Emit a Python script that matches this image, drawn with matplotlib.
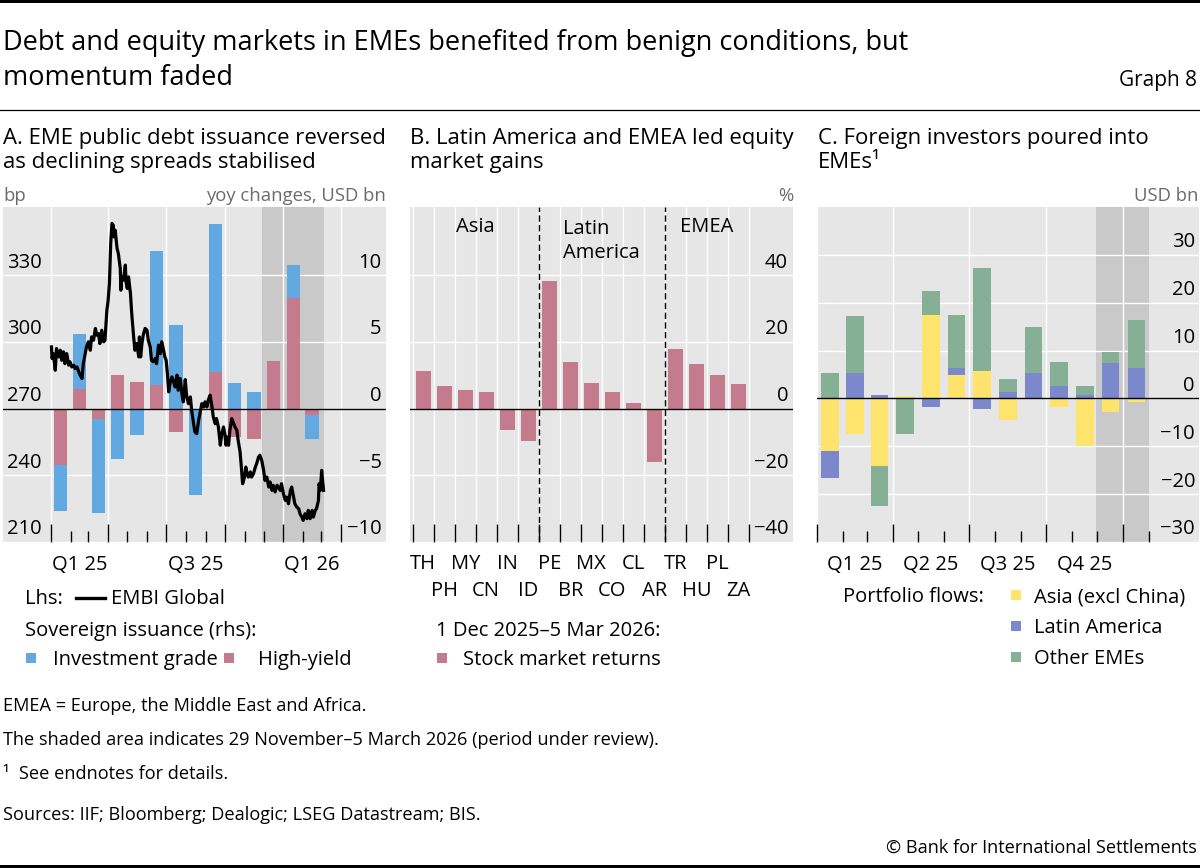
import numpy as np
import pandas as pd
import matplotlib
matplotlib.use("Agg")
import matplotlib.pyplot as plt
import matplotlib.dates as mdates
from matplotlib.patches import Rectangle
from matplotlib.lines import Line2D

plt.rcParams['font.family'] = ['Open Sans', 'DejaVu Sans']

# ---------------- DATA ----------------
# Panel A: sovereign issuance, yoy changes, USD bn (monthly, Jan 2025 - Feb 2026)
a_months = ["2025-01", "2025-02", "2025-03", "2025-04", "2025-05", "2025-06", "2025-07",
            "2025-08", "2025-09", "2025-10", "2025-11", "2025-12", "2026-01", "2026-02"]
a_high_yield = [-4.25, 1.5, -0.75, 2.55, 2.0, 1.8, -1.75, 0.0, 2.75, -2.1, -2.25, 3.55, 8.25, -0.45]
a_inv_grade = [-3.45, 4.05, -7.05, -3.75, -2.0, 10.0, 6.25, -6.5, 11.05, 1.9, 1.25, 0.0, 2.5, -1.8]
# EMBI Global spread, bp (day offset from 1 Jan 2025, value)
embi_day = [1, 2, 4, 7, 9, 12, 15, 17, 20, 22, 25, 28, 30, 33, 36, 38, 41, 43, 46, 49,
            51, 54, 56, 59, 62, 64, 67, 70, 72, 75, 77, 80, 83, 85, 88, 90, 92, 94, 96, 98,
            99, 101, 104, 106, 109, 110, 111, 114, 117, 118, 120, 122, 125, 127, 130, 132, 135, 138, 139, 141,
            143, 145, 148, 151, 153, 156, 158, 161, 164, 166, 169, 172, 174, 177, 179, 181, 183, 185, 187, 190,
            192, 195, 198, 200, 203, 206, 208, 211, 213, 216, 219, 221, 224, 226, 229, 232, 234, 237, 240, 242,
            245, 247, 250, 253, 255, 258, 260, 263, 266, 268, 271, 273, 275, 276, 279, 281, 284, 287, 289, 292,
            294, 297, 299, 301, 304, 306, 308, 310, 313, 315, 318, 321, 323, 326, 328, 331, 334, 336, 339, 342,
            344, 347, 349, 352, 355, 357, 360, 362, 365, 368, 370, 373, 376, 378, 381, 383, 386, 389, 391, 394,
            396, 399, 402, 404, 407, 410, 412, 415, 417, 420, 421, 423, 425, 428]
embi_value = [297.7, 292.5, 294.7, 287.2, 297.0, 293.2, 296.2, 291.7, 295.5, 290.2, 294.7, 289.5, 291.0, 288.7, 289.5, 288.0, 288.7, 287.2, 285.0, 283.5,
              290.2, 294.7, 297.7, 300.0, 296.2, 302.2, 300.7, 306.0, 303.0, 303.7, 299.2, 305.2, 300.0, 300.7, 314.2, 318.7, 326.2, 344.2, 353.2, 352.5,
              347.2, 350.2, 342.0, 339.7, 333.0, 323.2, 329.2, 327.7, 334.5, 327.0, 324.0, 329.2, 321.7, 312.7, 302.2, 296.2, 299.2, 293.2, 302.2, 293.2,
              299.2, 303.0, 306.0, 305.2, 300.7, 297.7, 291.7, 291.0, 292.5, 290.2, 298.5, 294.7, 300.0, 296.2, 293.2, 291.7, 285.7, 277.5, 281.2, 284.2,
              282.7, 279.7, 285.0, 278.2, 283.5, 276.0, 273.0, 283.0, 276.0, 272.2, 275.2, 269.2, 263.2, 259.5, 258.7, 264.7, 267.7, 272.2, 270.7, 273.0,
              270.7, 273.7, 276.0, 270.7, 266.2, 263.2, 265.5, 261.7, 253.5, 258.0, 261.7, 258.7, 253.5, 257.2, 253.5, 260.2, 265.5, 263.2, 261.7, 260.2,
              255.7, 250.5, 243.7, 236.2, 239.2, 243.7, 240.7, 239.2, 241.5, 239.2, 240.7, 243.7, 245.2, 248.2, 249.0, 246.7, 242.2, 237.7, 239.2, 234.7,
              237.0, 233.2, 235.5, 232.5, 235.5, 234.7, 233.2, 236.2, 231.7, 228.7, 230.2, 227.2, 233.2, 234.7, 230.2, 227.2, 225.7, 225.0, 222.7, 221.2,
              219.7, 222.7, 220.5, 224.2, 220.5, 224.2, 221.2, 224.2, 225.0, 228.7, 236.2, 233.2, 242.2, 233.2]

# Panel B: stock market returns, 1 Dec 2025 - 5 Mar 2026, %
b_groups = ["Asia", "Latin\nAmerica", "EMEA"]
b_group_sizes = [6, 6, 4]
b_countries = ["TH", "PH", "MY", "CN", "IN", "ID", "PE", "BR", "MX", "CO", "CL", "AR", "TR", "HU", "PL", "ZA"]
b_returns = [11.2, 6.7, 5.6, 5.1, -6.5, -9.8, 38.3, 13.9, 7.7, 4.9, 1.6, -16.1, 17.8, 13.5, 10.0, 7.5]

# Panel C: portfolio flows, USD bn (monthly, Jan 2025 - Jan 2026)
c_months = ["2025-01", "2025-02", "2025-03", "2025-04", "2025-05", "2025-06", "2025-07",
            "2025-08", "2025-09", "2025-10", "2025-11", "2025-12", "2026-01"]
c_asia = [-11.0, -7.5, -14.1, 0.6, 17.4, 4.9, 5.7, -4.5, 0.0, -1.8, -10.0, -2.8, -0.8]
c_latam = [-5.6, 5.4, 0.8, 0.0, -1.7, 1.5, -2.2, 1.4, 5.4, 2.7, 0.8, 7.3, 6.4]
c_other = [5.4, 11.9, -8.4, -7.5, 5.1, 11.0, 21.5, 2.6, 9.6, 5.0, 1.7, 2.4, 9.9]

review_start, review_end = "2025-11-29", "2026-03-05"

# ---------------- STYLE ----------------
BG = '#e6e6e6'
SHADE = '#c9c9c9'
C_IG = '#62a9e2'
C_HY = '#c47b8d'
C_ASIA = '#fee46c'
C_LATAM = '#7b89cc'
C_OTHER = '#86b096'
GREY_TXT = '#6b6b6b'
TICK_FS = 14.5
TITLE_FS = 19.5
PANEL_FS = 15.9
UNIT_FS = 13.3
LEG_FS = 14.5
FN = 13.1

W, H = 1200, 868
fig = plt.figure(figsize=(W / 100, H / 100), dpi=100)


def fx(x):
    return x / W


def fy(y):
    return 1 - y / H


def ftext(x, y, s, **kw):
    kw.setdefault('va', 'baseline')
    return fig.text(fx(x), fy(y), s, **kw)


def make_ax(x0, x1, y0=207, y1=542):
    ax = fig.add_axes([fx(x0), fy(y1), (x1 - x0) / W, (y1 - y0) / H])
    ax.set_facecolor(BG)
    for s in ax.spines.values():
        s.set_visible(False)
    ax.set_axisbelow(True)
    return ax


def ylabels(ax, ticks, side, inset=4.5, lift=7.5):
    for t in ticks:
        lab = f"{t:g}".replace('-', '\u2212')
        if side == 'left':
            ax.annotate(lab, xy=(0, t), xycoords=('axes fraction', 'data'), xytext=(inset, lift),
                        textcoords='offset pixels', ha='left', va='baseline', fontsize=TICK_FS)
        else:
            ax.annotate(lab, xy=(1, t), xycoords=('axes fraction', 'data'), xytext=(-inset, lift),
                        textcoords='offset pixels', ha='right', va='baseline', fontsize=TICK_FS)


def xlabel(ax, x, s, drop=28):
    ax.annotate(s, xy=(x, 0), xycoords=('data', 'axes fraction'), xytext=(0, -drop),
                textcoords='offset pixels', ha='center', va='baseline', fontsize=TICK_FS)


def stack(ax, x, series, colors, width):
    pos = np.zeros(len(x))
    neg = np.zeros(len(x))
    for vals, c in zip(series, colors):
        v = np.asarray(vals, float)
        bottom = np.where(v >= 0, pos, neg)
        ax.bar(x, v, width=width, bottom=bottom, color=c, lw=0, zorder=2)
        pos = pos + np.where(v > 0, v, 0)
        neg = neg + np.where(v < 0, v, 0)


def mid_month(months):
    s = pd.to_datetime(months)
    e = s + pd.offsets.MonthBegin(1)
    return mdates.date2num(s) + (mdates.date2num(e) - mdates.date2num(s)) / 2


def style_xticks(ax, major, minor):
    ax.set_xticks(major)
    ax.set_xticks(minor, minor=True)
    ax.tick_params(axis='x', which='major', direction='in', length=13, width=1.0, color='black',
                   labelbottom=False)
    ax.tick_params(axis='x', which='minor', direction='in', length=8, width=1.0, color='black',
                   labelbottom=False)
    ax.grid(axis='x', which='major', color='white', lw=1.0)


def dn(s):
    return mdates.date2num(pd.Timestamp(s))


# ---------------- FIGURE TEXT ----------------
fig.add_artist(Rectangle((0, fy(3)), 1, 3 / H, transform=fig.transFigure, color='black', lw=0))
fig.add_artist(Rectangle((0, 0), 1, 3 / H, transform=fig.transFigure, color='black', lw=0))
fig.add_artist(Line2D([0, 1], [fy(110), fy(110)], transform=fig.transFigure, color='black', lw=0.9))

ftext(3, 50, "Debt and equity markets in EMEs benefited from benign conditions, but", fontsize=TITLE_FS)
ftext(3, 85, "momentum faded", fontsize=TITLE_FS)
ftext(1197, 86, "Graph 8", fontsize=15, ha='right')

ftext(3, 144, "A. EME public debt issuance reversed", fontsize=PANEL_FS)
ftext(3, 168, "as declining spreads stabilised", fontsize=PANEL_FS)
ftext(410, 144, "B. Latin America and EMEA led equity", fontsize=PANEL_FS)
ftext(410, 168, "market gains", fontsize=PANEL_FS)
ftext(818, 144, "C. Foreign investors poured into", fontsize=PANEL_FS)
ftext(818, 168, "EMEs\u00b9", fontsize=PANEL_FS)

ftext(3, 201, "bp", fontsize=UNIT_FS, color=GREY_TXT)
ftext(386, 201, "yoy changes, USD bn", fontsize=UNIT_FS, color=GREY_TXT, ha='right')
ftext(793, 201, "%", fontsize=UNIT_FS, color=GREY_TXT, ha='right')
ftext(1198, 201, "USD bn", fontsize=UNIT_FS, color=GREY_TXT, ha='right')

# ---------------- PANEL A ----------------
axA = make_ax(3, 386)
a_x = mid_month(a_months)
stack(axA, a_x, [a_high_yield, a_inv_grade], [C_HY, C_IG], width=21)
a_lo, a_hi = -10, 15.1
axA.set_ylim(a_lo, a_hi)
axA.set_xlim(dn("2024-10-18"), dn("2026-06-11"))
a_yt = [-10, -5, 0, 5, 10]
axA.set_yticks(a_yt)
axA.tick_params(axis='y', length=0, labelleft=False, labelright=False)
axA.grid(axis='y', color='white', lw=1.0)
axA.axhline(0, color='black', lw=1.0, zorder=3)
axA.axvspan(dn(review_start), dn(review_end), color=SHADE, lw=0, zorder=0.2)
a_major = mdates.date2num(pd.date_range("2025-01-01", "2026-04-01", freq="QS"))
a_minor = mdates.date2num(pd.date_range("2025-01-01", "2026-04-01", freq="MS"))
style_xticks(axA, a_major, a_minor)
ylabels(axA, a_yt, 'right')

axL = axA.twinx()
for s in axL.spines.values():
    s.set_visible(False)
axL.set_ylim(270 + 6 * a_lo, 270 + 6 * a_hi)
axL.tick_params(axis='y', length=0, labelleft=False, labelright=False)
axL.set_yticks([])
embi_x = mdates.date2num(pd.Timestamp("2025-01-01") + pd.to_timedelta(embi_day, unit="D"))
axL.plot(embi_x, embi_value, color='black', lw=2.3, solid_joinstyle='round', zorder=4)
ylabels(axL, [210, 240, 270, 300, 330], 'left')
for i, lab in [(0, "Q1 25"), (2, "Q3 25"), (4, "Q1 26")]:
    xlabel(axA, (a_major[i] + a_major[i + 1]) / 2, lab)

# ---------------- PANEL B ----------------
axB = make_ax(410, 793)
bx = np.arange(len(b_countries))
axB.bar(bx, b_returns, width=0.71, color=C_HY, lw=0, zorder=2)
axB.set_xlim(-0.627, 17.6)
axB.set_ylim(-40, 60.5)
b_yt = [-40, -20, 0, 20, 40]
axB.set_yticks(b_yt)
axB.tick_params(axis='y', length=0, labelleft=False, labelright=False)
axB.grid(axis='y', color='white', lw=1.0)
axB.axhline(0, color='black', lw=1.0, zorder=3)
axB.set_xticks(np.arange(len(b_countries) + 1) - 0.5)
axB.tick_params(axis='x', which='major', direction='in', length=13, width=1.0, color='black',
                labelbottom=False)
axB.grid(axis='x', which='major', color='white', lw=1.0)
ylabels(axB, b_yt, 'right', inset=5)
edges = np.cumsum([0] + b_group_sizes) - 0.5
for e in edges[1:-1]:
    axB.axvline(e, color='black', lw=1.0, ls=(0, (4.5, 2.5)), zorder=3)
for g, a, b in zip(b_groups, edges[:-1], edges[1:]):
    drop = 25 + 26 * g.count("\n")
    axB.annotate(g, xy=((a + b) / 2, 1), xycoords=('data', 'axes fraction'), xytext=(0, -drop),
                 textcoords='offset pixels', ha='center', va='baseline', fontsize=TICK_FS,
                 multialignment='left', linespacing=1.25)
for i, c in enumerate(b_countries):
    xlabel(axB, bx[i], c, drop=27 if i % 2 == 0 else 54)

# ---------------- PANEL C ----------------
axC = make_ax(817, 1199)
c_x = mid_month(c_months)
stack(axC, c_x, [c_asia, c_latam, c_other], [C_ASIA, C_LATAM, C_OTHER], width=21)
axC.set_xlim(dn("2025-01-01"), dn("2026-04-01"))
axC.set_ylim(-30, 40)
c_yt = [-30, -20, -10, 0, 10, 20, 30]
axC.set_yticks(c_yt)
axC.tick_params(axis='y', length=0, labelleft=False, labelright=False)
axC.grid(axis='y', color='white', lw=1.0)
axC.axhline(0, color='black', lw=1.0, zorder=3)
axC.axvspan(dn(review_start), dn("2026-02-01"), color=SHADE, lw=0, zorder=0.2)
c_major = mdates.date2num(pd.date_range("2025-01-01", "2026-01-01", freq="QS"))
c_minor = mdates.date2num(pd.date_range("2025-01-01", "2026-02-01", freq="MS"))
style_xticks(axC, c_major, c_minor)
ylabels(axC, c_yt, 'right', inset=4)
for i, lab in enumerate(["Q1 25", "Q2 25", "Q3 25", "Q4 25"]):
    xlabel(axC, (c_major[i] + c_major[i + 1]) / 2, lab)

# ---------------- LEGENDS ----------------


def square(x0, yc, color, s=9.5):
    fig.add_artist(Rectangle((fx(x0), fy(yc + s / 2)), s / W, s / H, transform=fig.transFigure,
                             color=color, lw=0))


ftext(25, 604, "Lhs:", fontsize=LEG_FS)
fig.add_artist(Line2D([fx(76), fx(105)], [fy(598), fy(598)], transform=fig.transFigure,
                      color='black', lw=2.4))
ftext(111, 604, "EMBI Global", fontsize=LEG_FS)
ftext(25, 636, "Sovereign issuance (rhs):", fontsize=LEG_FS)
square(26, 658, C_IG)
ftext(53, 665, "Investment grade", fontsize=LEG_FS)
square(224, 658, C_HY)
ftext(258, 665, "High-yield", fontsize=LEG_FS)

ftext(436, 636, "1 Dec 2025\u20135 Mar 2026:", fontsize=LEG_FS)
square(437, 658, C_HY)
ftext(463, 665, "Stock market returns", fontsize=LEG_FS)

ftext(843, 602, "Portfolio flows:", fontsize=LEG_FS)
square(1011, 595, C_ASIA)
ftext(1034, 602, "Asia (excl China)", fontsize=LEG_FS)
square(1011, 626, C_LATAM)
ftext(1034, 633, "Latin America", fontsize=LEG_FS)
square(1011, 657, C_OTHER)
ftext(1034, 664, "Other EMEs", fontsize=LEG_FS)

# ---------------- FOOTNOTES ----------------
ftext(3, 711, "EMEA = Europe, the Middle East and Africa.", fontsize=FN)
ftext(3, 745, "The shaded area indicates 29 November\u20135 March 2026 (period under review).", fontsize=FN)
ftext(3, 779, "\u00b9  See endnotes for details.", fontsize=FN)
ftext(3, 820, "Sources: IIF; Bloomberg; Dealogic; LSEG Datastream; BIS.", fontsize=FN)
ftext(1197, 853, "\u00a9 Bank for International Settlements", fontsize=FN, ha='right')

fig.savefig("out.png", dpi=100)
